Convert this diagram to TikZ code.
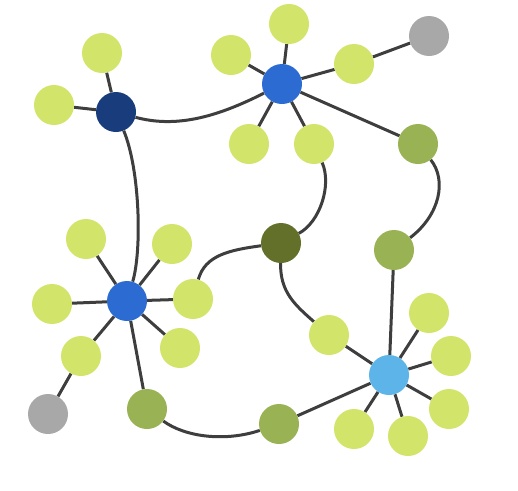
\documentclass[tikz,border=0pt]{standalone}
\usepackage{tikz}
\usetikzlibrary{backgrounds}
\definecolor{lime}{RGB}{211, 228, 106}
\definecolor{moss}{RGB}{152, 178, 84}
\definecolor{olive}{RGB}{98, 112, 42}
\definecolor{navy}{RGB}{24, 60, 124}
\definecolor{royal}{RGB}{44, 108, 210}
\definecolor{sky}{RGB}{92, 180, 232}
\definecolor{stone}{RGB}{168, 168, 168}
\definecolor{wire}{RGB}{62, 62, 62}

\begin{document}
\begin{tikzpicture}[x=1pt, y=-1pt,
    dot/.style={circle, minimum size=40pt, inner sep=0pt},
    leaf/.style={dot, fill=lime},
    link/.style={draw=wire, line width=3pt}]

  \useasboundingbox (0, 0) rectangle (518, 490);

  % hubs
  \node[dot, fill=navy]  (hubA) at (116, 112) {};
  \node[dot, fill=royal] (hubB) at (282, 84) {};
  \node[dot, fill=royal] (hubC) at (127, 301) {};
  \node[dot, fill=sky]   (hubD) at (389, 375) {};

  % links between hubs
  \node[dot, fill=moss]  (mossA) at (418, 144) {};
  \node[dot, fill=moss]  (mossB) at (394, 250) {};
  \node[dot, fill=moss]  (mossC) at (147, 409) {};
  \node[dot, fill=moss]  (mossD) at (279, 424) {};
  \node[dot, fill=olive] (core)  at (281, 243) {};
  \node[dot, fill=stone] (greyA) at (429, 36) {};
  \node[dot, fill=stone] (greyB) at (48, 414) {};

  % leaves
  \foreach \n/\x/\y in {a1/102/53, a2/54/105,
      b1/289/24, b2/231/55, b3/354/64, b4/249/144, b5/314/144,
      c1/86/239, c2/172/244, c3/52/304, c4/193/299, c5/180/348, c6/81/356,
      d1/329/335, d2/429/313, d3/451/356, d4/449/409, d5/354/429, d6/408/436}
    \node[leaf] (\n) at (\x, \y) {};

  \begin{scope}[on background layer]
    \foreach \a/\b in {hubA/a1, hubA/a2,
        hubB/b1, hubB/b2, hubB/b3, hubB/b4, hubB/b5, hubB/mossA, b3/greyA,
        hubC/c1, hubC/c2, hubC/c3, hubC/c4, hubC/c5, hubC/c6, hubC/mossC, c6/greyB,
        hubD/d1, hubD/d2, hubD/d3, hubD/d4, hubD/d5, hubD/d6, hubD/mossB, hubD/mossD}
      \draw[link] (\a) -- (\b);

    \draw[link] (hubA) .. controls (175, 128) and (215, 118) .. (hubB);
    \draw[link] (hubA) .. controls (140, 170) and (142, 250) .. (hubC);
    \draw[link] (b5) .. controls (332, 185) and (320, 222) .. (core);
    \draw[link] (mossA) .. controls (447, 180) and (440, 215) .. (mossB);
    \draw[link] (core) .. controls (230, 250) and (205, 255) .. (c4);
    \draw[link] (core) .. controls (280, 292) and (295, 305) .. (d1);
    \draw[link] (mossC) .. controls (185, 437) and (225, 442) .. (mossD);
  \end{scope}

\end{tikzpicture}
\end{document}
